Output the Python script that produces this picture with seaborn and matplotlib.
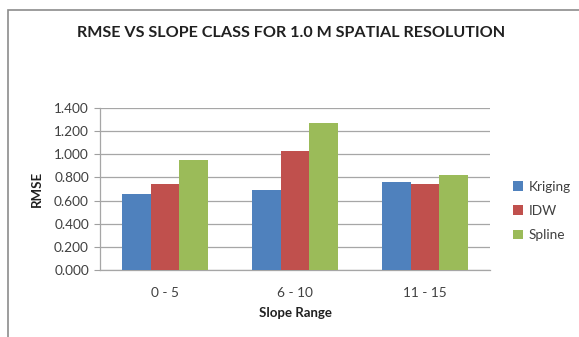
import matplotlib
matplotlib.use("Agg")
import matplotlib.pyplot as plt
from matplotlib.patches import Rectangle
import seaborn as sns
import pandas as pd

# RMSE per slope class and interpolation method
slope_ranges = ["0 - 5", "6 - 10", "11 - 15"]
methods = ["Kriging", "IDW", "Spline"]
kriging = [0.654, 0.689, 0.758]
idw = [0.743, 1.027, 0.741]
spline = [0.954, 1.270, 0.824]
y_ticks = [0.0, 0.2, 0.4, 0.6, 0.8, 1.0, 1.2, 1.4]

rows = []
for m, vals in zip(methods, [kriging, idw, spline]):
    for s, v in zip(slope_ranges, vals):
        rows.append({"Slope Range": s, "Method": m, "RMSE": v})
df = pd.DataFrame(rows)

sns.set_theme(style="white")
plt.rcParams["font.family"] = ["Lato", "DejaVu Sans"]

W, H = 579, 337
fig = plt.figure(figsize=(W / 100, H / 100), dpi=100)
ax = fig.add_axes([100 / W, 1 - 270 / H, 390 / W, 162 / H])

palette = {"Kriging": "#4F81BD", "IDW": "#C0504D", "Spline": "#9BBB59"}
sns.barplot(data=df, x="Slope Range", y="RMSE", hue="Method",
            order=slope_ranges, hue_order=methods, palette=palette,
            width=0.667, gap=0, saturation=1, errorbar=None,
            edgecolor="none", ax=ax, zorder=3)

ax.set_ylim(0, 1.4)
ax.set_xlim(-0.5, 2.5)
ax.set_yticks(y_ticks)
ax.set_yticklabels([f"{t:.3f}" for t in y_ticks], fontsize=9.8, color="#404040")
ax.tick_params(axis="x", labelsize=9.8, colors="#404040", length=0, pad=12)
ax.tick_params(axis="y", length=4, width=0.8, color="#A0A0A0", direction="out",
               left=True, pad=4)
ax.yaxis.grid(True, color="#A6A6A6", linewidth=0.9, zorder=0)
ax.set_axisbelow(True)
for side in ["top", "right"]:
    ax.spines[side].set_visible(False)
ax.spines["left"].set_color("#A6A6A6")
ax.spines["bottom"].set_color("#A6A6A6")
ax.spines["left"].set_linewidth(0.9)
ax.spines["bottom"].set_linewidth(0.9)

ax.set_xlabel("Slope Range", fontsize=9.5, fontweight="bold", color="#202020", labelpad=6)
ax.set_ylabel("RMSE", fontsize=9.5, fontweight="bold", color="#202020", labelpad=8)

fig.text(291 / W, 1 - 33 / H, "RMSE VS SLOPE CLASS FOR 1.0 M SPATIAL RESOLUTION",
         ha="center", va="center", fontsize=11.6, fontweight="bold", color="#202020")

leg = ax.legend(loc="center left", bbox_to_anchor=(508 / W, 1 - 211 / H),
                bbox_transform=fig.transFigure, frameon=False, fontsize=9.8,
                handlelength=0.7, handleheight=0.7, handletextpad=0.4,
                labelspacing=0.9, borderaxespad=0)
for t in leg.get_texts():
    t.set_color("#404040")

# chart frame
fig.patches.append(Rectangle((8 / W, -0.1), 1.2, 0.1 + 1 - 10 / H,
                             transform=fig.transFigure, fill=False,
                             edgecolor="#8C8C8C", linewidth=1.2))

fig.savefig("out.png", dpi=100)
